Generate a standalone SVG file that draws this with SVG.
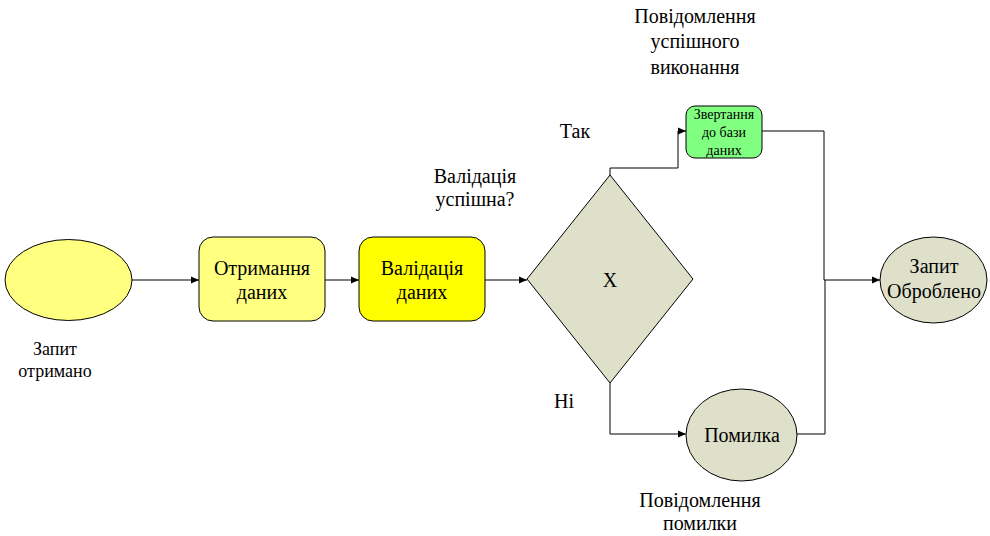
<svg xmlns="http://www.w3.org/2000/svg" width="990" height="536" viewBox="0 0 990 536">
<defs>
<marker id="a" markerWidth="8" markerHeight="8" refX="8" refY="4" orient="auto" markerUnits="userSpaceOnUse">
<path d="M0,0.5 L8,4 L0,7.5 Z" fill="#000"/>
</marker>
</defs>
<rect width="990" height="536" fill="#fff"/>
<g id="connectors" fill="none" stroke="#000" stroke-width="1">
<path d="M132,280 H199" marker-end="url(#a)"/>
<path d="M325,280 H359" marker-end="url(#a)"/>
<path d="M485,280 H527" marker-end="url(#a)"/>
<path d="M610,175 V168 H678 V131 H686" marker-end="url(#a)"/>
<path d="M610,383 V434 H686" marker-end="url(#a)"/>
<path d="M762,131 H824 V280"/>
<path d="M797,434 H825 V280"/>
<path d="M824,280 H880" marker-end="url(#a)"/>
</g>
<g id="start">
<ellipse cx="68.5" cy="280" rx="63.5" ry="40.5" fill="#FFFF80" stroke="#000"/>
<text font-family="Liberation Serif" font-size="18" text-anchor="middle" x="55" y="355">Запит</text>
<text font-family="Liberation Serif" font-size="18" text-anchor="middle" x="55" y="377">отримано</text>
</g>
<g id="receive">
<rect x="199" y="237" width="126" height="84" rx="14" fill="#FFFF80" stroke="#000"/>
<text font-family="Liberation Serif" font-size="20" text-anchor="middle" x="262" y="275">Отримання</text>
<text font-family="Liberation Serif" font-size="20" text-anchor="middle" x="262" y="299">даних</text>
</g>
<g id="validate">
<rect x="359" y="237" width="126" height="84" rx="14" fill="#FFFF00" stroke="#000"/>
<text font-family="Liberation Serif" font-size="20" text-anchor="middle" x="422" y="275">Валідація</text>
<text font-family="Liberation Serif" font-size="20" text-anchor="middle" x="422" y="299">даних</text>
</g>
<g id="gateway">
<polygon points="610,175 693,279 610,383 527,279" fill="#DEE0CA" stroke="#000"/>
<text font-family="Liberation Serif" font-size="20" text-anchor="middle" x="610" y="287">X</text>
<text font-family="Liberation Serif" font-size="20" text-anchor="middle" x="475" y="183">Валідація</text>
<text font-family="Liberation Serif" font-size="20" text-anchor="middle" x="475" y="206">успішна?</text>
<text font-family="Liberation Serif" font-size="20" text-anchor="middle" x="575" y="138">Так</text>
<text font-family="Liberation Serif" font-size="20" text-anchor="middle" x="564" y="408">Ні</text>
</g>
<g id="db">
<rect x="686" y="106" width="76" height="52" rx="9" fill="#80FF80" stroke="#000"/>
<text font-family="Liberation Serif" font-size="14" text-anchor="middle" x="724" y="119">Звертання</text>
<text font-family="Liberation Serif" font-size="14" text-anchor="middle" x="724" y="137">до бази</text>
<text font-family="Liberation Serif" font-size="14" text-anchor="middle" x="724" y="155">даних</text>
<text font-family="Liberation Serif" font-size="20" text-anchor="middle" x="695" y="23">Повідомлення</text>
<text font-family="Liberation Serif" font-size="20" text-anchor="middle" x="695" y="48">успішного</text>
<text font-family="Liberation Serif" font-size="20" text-anchor="middle" x="695" y="74">виконання</text>
</g>
<g id="error">
<ellipse cx="741.5" cy="435" rx="55.5" ry="46" fill="#DEE0CA" stroke="#000"/>
<text font-family="Liberation Serif" font-size="20" text-anchor="middle" x="742" y="442">Помилка</text>
<text font-family="Liberation Serif" font-size="20" text-anchor="middle" x="700" y="507">Повідомлення</text>
<text font-family="Liberation Serif" font-size="20" text-anchor="middle" x="700" y="530">помилки</text>
</g>
<g id="end">
<ellipse cx="933.5" cy="280" rx="53.5" ry="43" fill="#DEE0CA" stroke="#000"/>
<text font-family="Liberation Serif" font-size="20" text-anchor="middle" x="934" y="273">Запит</text>
<text font-family="Liberation Serif" font-size="20" text-anchor="middle" x="934" y="298">Оброблено</text>
</g>
</svg>
